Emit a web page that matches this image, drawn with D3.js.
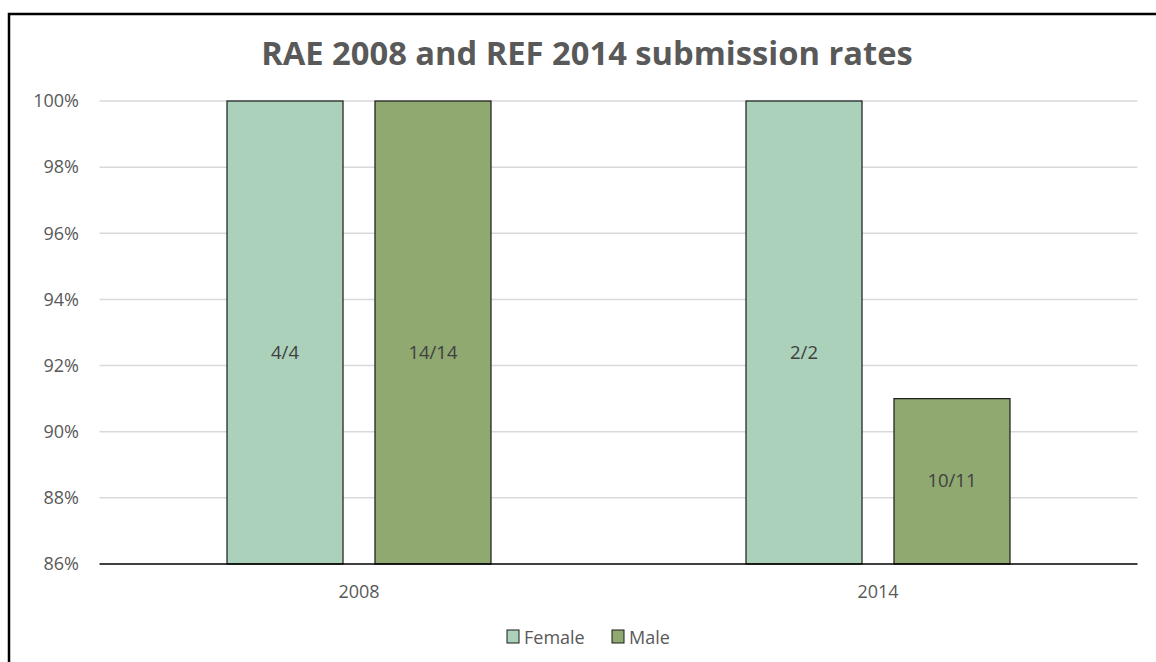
<!DOCTYPE html>
<html><head><meta charset="utf-8">
<script src="https://cdn.jsdelivr.net/npm/d3@7"></script>
<style>body{margin:0;background:#fff}svg{display:block}</style>
</head><body>
<script>
const title = "RAE 2008 and REF 2014 submission rates";
const years = ["2008", "2014"];
const seriesNames = ["Female", "Male"];
const female = [1.00, 1.00];
const male = [1.00, 0.91];
const femaleLabels = ["4/4", "2/2"];
const maleLabels = ["14/14", "10/11"];
const femaleLabelAt = [0.9244, 0.9244];
const maleLabelAt = [0.9244, 0.8857];
const yTicks = [0.86, 0.88, 0.90, 0.92, 0.94, 0.96, 0.98, 1.00];
const colors = {Female: "#abd1bb", Male: "#8fa970"};

const W = 1156, H = 662;
const svg = d3.select("body").append("svg").attr("width", W).attr("height", H);
const font = "'Open Sans', sans-serif";
const fs = 18;

// outer border
svg.append("rect").attr("x", 9).attr("y", 14).attr("width", W + 20).attr("height", H + 20)
  .attr("fill", "none").attr("stroke", "#000").attr("stroke-width", 2.5);

const plotL = 99.5, plotR = 1137.5, plotT = 101, plotB = 564;
const x0 = d3.scaleBand().domain(years).range([plotL, plotR]).padding(0);
const groupW = 264;
const x1 = d3.scaleBand().domain(seriesNames).range([0, groupW]).paddingInner(0.216).paddingOuter(0);
const y = d3.scaleLinear().domain([0.86, 1.0]).range([plotB, plotT]);

// gridlines
svg.append("g").selectAll("line").data(yTicks.filter(t => t > 0.86)).join("line")
  .attr("x1", plotL).attr("x2", plotR)
  .attr("y1", d => y(d)).attr("y2", d => y(d))
  .attr("stroke", "#d9d9d9").attr("stroke-width", 1.5);

// y axis
const yAxis = d3.axisLeft(y).tickValues(yTicks).tickFormat(d3.format(".0%")).tickSize(0).tickPadding(0);
const ya = svg.append("g").attr("transform", `translate(${79},0)`).call(yAxis);
ya.select(".domain").remove();
ya.selectAll("text").attr("font-family", font).attr("font-size", fs).attr("fill", "#595959");

// bars
const rows = years.map((yr, i) => [
  {yr, s: "Female", v: female[i], lab: femaleLabels[i], at: femaleLabelAt[i]},
  {yr, s: "Male", v: male[i], lab: maleLabels[i], at: maleLabelAt[i]}
]).flat();
const off = (x0.bandwidth() - groupW) / 2;
const bx = d => x0(d.yr) + off + x1(d.s);

svg.append("g").selectAll("rect").data(rows).join("rect")
  .attr("x", bx).attr("y", d => y(d.v))
  .attr("width", x1.bandwidth()).attr("height", d => plotB - y(d.v))
  .attr("fill", d => colors[d.s]).attr("stroke", "#1a1a1a").attr("stroke-width", 1.2);

svg.append("g").selectAll("text").data(rows).join("text")
  .attr("x", d => bx(d) + x1.bandwidth() / 2).attr("y", d => y(d.at))
  .attr("text-anchor", "middle").attr("dominant-baseline", "central")
  .attr("font-family", font).attr("font-size", fs + 0.5).attr("fill", "#404040")
  .text(d => d.lab);

// x axis
const xAxis = d3.axisBottom(x0).tickSize(0).tickPadding(0);
const xa = svg.append("g").attr("transform", `translate(0,${plotB})`).call(xAxis);
xa.select(".domain").remove();
xa.selectAll("text").attr("dy", 0).attr("y", 27).attr("dominant-baseline", "central")
  .attr("font-family", font).attr("font-size", fs).attr("fill", "#595959");
svg.append("line").attr("x1", plotL).attr("x2", plotR).attr("y1", plotB).attr("y2", plotB)
  .attr("stroke", "#000").attr("stroke-width", 1.5);

// title
const t = svg.append("text").attr("x", 587).attr("y", 65).attr("text-anchor", "middle")
  .attr("font-family", font).attr("font-weight", "bold").attr("font-size", 28)
  .attr("fill", "#595959").text(title);
const tw = t.node().getComputedTextLength();
t.attr("font-size", 28 * 652 / tw);

// legend
const leg = svg.append("g");
const legItems = [{s: "Female", x: 507}, {s: "Male", x: 612}];
legItems.forEach(it => {
  leg.append("rect").attr("x", it.x).attr("y", 630).attr("width", 12).attr("height", 13)
    .attr("fill", colors[it.s]).attr("stroke", "#1a1a1a").attr("stroke-width", 1);
  leg.append("text").attr("x", it.x + 17).attr("y", 636.5).attr("dominant-baseline", "central")
    .attr("font-family", font).attr("font-size", fs).attr("fill", "#595959").text(it.s);
});
</script>
</body></html>
